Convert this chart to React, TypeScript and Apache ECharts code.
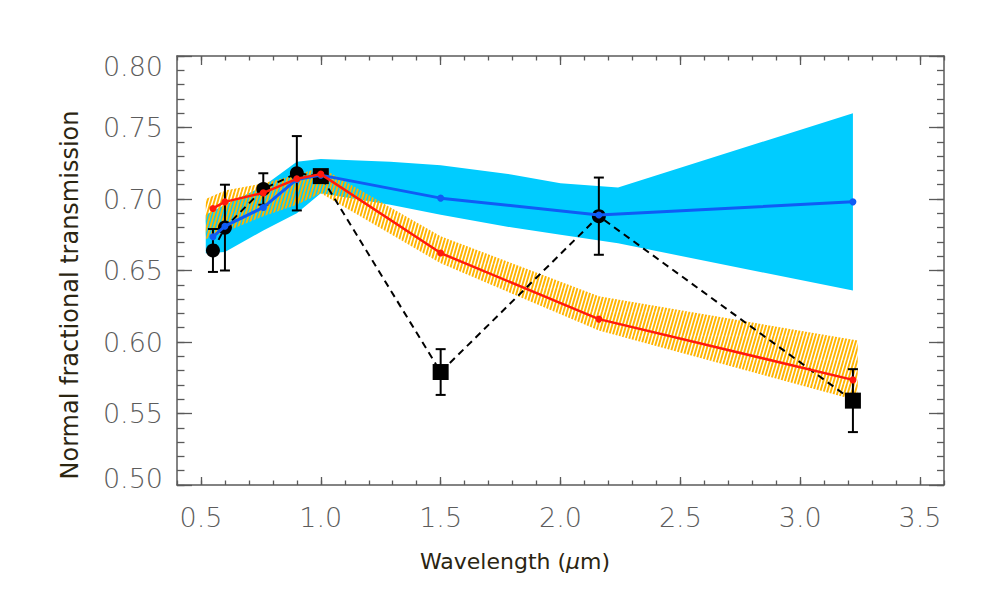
import React, { useEffect, useRef } from 'react';
import * as echarts from 'echarts';

// Observations (black markers with error bars, dashed line)
const obsX = [0.55, 0.60, 0.76, 0.90, 1.00, 1.50, 2.16, 3.22];
const obsY = [0.664, 0.680, 0.707, 0.718, 0.716, 0.579, 0.688, 0.559];
const obsErr = [0.015, 0.030, 0.011, 0.026, 0, 0.016, 0.027, 0.022];
const obsShape = ['circle', 'circle', 'circle', 'circle', 'rect', 'rect', 'circle', 'rect'];

// Model curves
const modelX = [0.55, 0.60, 0.76, 0.90, 1.00, 1.50, 2.16, 3.22];
const redY = [0.6934, 0.698, 0.7043, 0.7141, 0.7174, 0.6622, 0.616, 0.5735];
const blueY = [0.6736, 0.681, 0.6941, 0.7137, 0.7167, 0.7006, 0.6888, 0.698];

// Cyan uncertainty band (blue model)
const cyanX = [0.52, 0.60, 0.76, 0.90, 1.00, 1.29, 1.50, 1.80, 2.00, 2.24, 3.22];
const cyanHi = [0.689, 0.696, 0.709, 0.726, 0.728, 0.726, 0.7236, 0.717, 0.711, 0.708, 0.760];
const cyanLo = [0.662, 0.663, 0.678, 0.690, 0.704, 0.696, 0.689, 0.680, 0.675, 0.669, 0.636];

// Orange hatched band (red model)
const orangeX = [0.52, 0.60, 0.76, 0.90, 1.00, 1.50, 2.16, 3.24];
const orangeHi = [0.700, 0.706, 0.711, 0.717, 0.722, 0.674, 0.632, 0.601];
const orangeLo = [0.672, 0.677, 0.688, 0.696, 0.704, 0.655, 0.608, 0.559];

// Axis ticks
const xMajorTicks = [0.5, 1.0, 1.5, 2.0, 2.5, 3.0, 3.5];

const AXIS_COLOR = '#5a5a5a';
const LABEL_COLOR = '#5c5c5c';
const TITLE_COLOR = '#2b2511';
const LABEL_FONT = "'DejaVu Sans', sans-serif";

function makeHatch(): string {
  const c = document.createElement('canvas');
  c.width = 14;
  c.height = 24;
  const ctx = c.getContext('2d')!;
  ctx.strokeStyle = '#FFB400';
  ctx.lineWidth = 1.9;
  for (let x = -14; x <= 28; x += 3.5) {
    ctx.beginPath();
    ctx.moveTo(x, 24);
    ctx.lineTo(x + 7, 0);
    ctx.stroke();
  }
  return c.toDataURL();
}

function bandSeries(xs: number[], hi: number[], lo: number[], fill: any) {
  return {
    type: 'custom',
    xAxisIndex: 0,
    yAxisIndex: 0,
    silent: true,
    data: xs.map((x, i) => [x, hi[i], lo[i]]),
    encode: { x: 0, y: [1, 2] },
    renderItem: (params: any, api: any) => {
      if (params.dataIndex !== 0) return null;
      const pts: number[][] = [];
      for (let i = 0; i < xs.length; i++) pts.push(api.coord([xs[i], hi[i]]));
      for (let i = xs.length - 1; i >= 0; i--) pts.push(api.coord([xs[i], lo[i]]));
      return { type: 'polygon', shape: { points: pts }, style: { fill, stroke: null } };
    },
  };
}

export default function App() {
  const ref = useRef<HTMLDivElement>(null);
  useEffect(() => {
    if (!ref.current) return;
    const chart = echarts.init(ref.current, undefined, { renderer: 'svg' });
    const hatch = makeHatch();

    const axisCommonX = { type: 'value', min: 0.4, max: 3.6, gridIndex: 0, splitLine: { show: false } };
    const axisCommonY = { type: 'value', min: 0.5, max: 0.8, gridIndex: 0, splitLine: { show: false } };
    const tickStyle = { color: AXIS_COLOR, width: 1.3 };
    const labelFont = { color: LABEL_COLOR, fontSize: 27, fontWeight: 200, fontFamily: LABEL_FONT };

    const option: any = {
      animation: false,
      backgroundColor: '#ffffff',
      grid: { left: 177, top: 56, width: 767, height: 429 },
      xAxis: [
        {
          ...axisCommonX,
          position: 'bottom',
          axisLine: { show: true, onZero: false, lineStyle: { color: AXIS_COLOR, width: 1.5 } },
          axisTick: { show: true, inside: true, length: 8, customValues: xMajorTicks, lineStyle: tickStyle },
          axisLabel: {
            show: true,
            customValues: xMajorTicks,
            margin: 19,
            ...labelFont,
            formatter: (v: number) => v.toFixed(1),
          },
        },
        {
          ...axisCommonX,
          position: 'bottom',
          interval: 0.1,
          axisLine: { show: false },
          axisTick: { show: true, inside: true, length: 4.5, lineStyle: tickStyle },
          axisLabel: { show: false },
        },
        {
          ...axisCommonX,
          position: 'top',
          axisLine: { show: true, onZero: false, lineStyle: { color: AXIS_COLOR, width: 1.5 } },
          axisTick: { show: true, inside: true, length: 9, customValues: xMajorTicks, lineStyle: tickStyle },
          axisLabel: { show: false },
        },
        {
          ...axisCommonX,
          position: 'top',
          interval: 0.1,
          axisLine: { show: false },
          axisTick: { show: true, inside: true, length: 4.5, lineStyle: tickStyle },
          axisLabel: { show: false },
        },
      ],
      yAxis: [
        {
          ...axisCommonY,
          position: 'left',
          interval: 0.05,
          axisLine: { show: true, onZero: false, lineStyle: { color: AXIS_COLOR, width: 1.5 } },
          axisTick: { show: true, inside: true, length: 15, lineStyle: tickStyle },
          axisLabel: {
            show: true,
            margin: 14,
            ...labelFont,
            formatter: (v: number) => {
              const s = v.toFixed(2);
              if (Math.abs(v - 0.8) < 1e-6) return '{t|' + s + '}';
              if (Math.abs(v - 0.5) < 1e-6) return '{b|' + s + '}';
              return s;
            },
            rich: {
              t: { padding: [20, 0, 0, 0], ...labelFont },
              b: { padding: [0, 0, 14, 0], ...labelFont },
            },
          },
        },
        {
          ...axisCommonY,
          position: 'left',
          interval: 0.01,
          axisLine: { show: false },
          axisTick: { show: true, inside: true, length: 7.5, lineStyle: tickStyle },
          axisLabel: { show: false },
        },
        {
          ...axisCommonY,
          position: 'right',
          interval: 0.05,
          axisLine: { show: true, onZero: false, lineStyle: { color: AXIS_COLOR, width: 1.5 } },
          axisTick: { show: true, inside: true, length: 15, lineStyle: tickStyle },
          axisLabel: { show: false },
        },
        {
          ...axisCommonY,
          position: 'right',
          interval: 0.01,
          axisLine: { show: false },
          axisTick: { show: true, inside: true, length: 7, lineStyle: tickStyle },
          axisLabel: { show: false },
        },
      ],
      series: [
        bandSeries(cyanX, cyanHi, cyanLo, '#00CCFF'),
        bandSeries(orangeX, orangeHi, orangeLo, {
          image: hatch,
          repeat: 'repeat',
          imageWidth: 14,
          imageHeight: 24,
        }),
        {
          type: 'line',
          xAxisIndex: 0,
          yAxisIndex: 0,
          data: obsX.map((x, i) => ({
            value: [x, obsY[i]],
            symbol: obsShape[i],
            symbolSize: obsShape[i] === 'rect' ? 16 : 14,
          })),
          lineStyle: { color: '#000', width: 2, type: [7, 5] },
          itemStyle: { color: '#000' },
          showAllSymbol: true,
          z: 3,
        },
        {
          type: 'custom',
          xAxisIndex: 0,
          yAxisIndex: 0,
          data: obsX.map((x, i) => [x, obsY[i], obsErr[i]]),
          encode: { x: 0, y: 1 },
          z: 3,
          renderItem: (params: any, api: any) => {
            const x = api.value(0);
            const y = api.value(1);
            const e = api.value(2);
            if (!e) return null;
            const top = api.coord([x, y + e]);
            const bot = api.coord([x, y - e]);
            const w = 5;
            const st = { stroke: '#000', lineWidth: 2 };
            return {
              type: 'group',
              children: [
                { type: 'line', shape: { x1: top[0], y1: top[1], x2: bot[0], y2: bot[1] }, style: st },
                { type: 'line', shape: { x1: top[0] - w, y1: top[1], x2: top[0] + w, y2: top[1] }, style: st },
                { type: 'line', shape: { x1: bot[0] - w, y1: bot[1], x2: bot[0] + w, y2: bot[1] }, style: st },
              ],
            };
          },
        },
        {
          type: 'line',
          xAxisIndex: 0,
          yAxisIndex: 0,
          data: modelX.map((x, i) => [x, blueY[i]]),
          symbol: 'circle',
          symbolSize: 7,
          showAllSymbol: true,
          lineStyle: { color: '#0F5CF5', width: 3 },
          itemStyle: { color: '#0F5CF5' },
          z: 4,
        },
        {
          type: 'line',
          xAxisIndex: 0,
          yAxisIndex: 0,
          data: modelX.map((x, i) => [x, redY[i]]),
          symbol: 'circle',
          symbolSize: 7,
          showAllSymbol: true,
          lineStyle: { color: '#FF1A0D', width: 2.5 },
          itemStyle: { color: '#FF1A0D' },
          z: 5,
        },
      ],
      graphic: [
        {
          type: 'text',
          x: 70,
          y: 295,
          rotation: Math.PI / 2,
          style: {
            text: 'Normal fractional transmission',
            fontSize: 24,
            fontFamily: LABEL_FONT,
            fill: TITLE_COLOR,
            align: 'center',
            verticalAlign: 'middle',
          },
        },
        {
          type: 'text',
          x: 515,
          y: 561,
          style: {
            text: 'Wavelength ({i|μ}m)',
            fontSize: 22,
            fontFamily: LABEL_FONT,
            fill: TITLE_COLOR,
            align: 'center',
            verticalAlign: 'middle',
            rich: {
              i: { fontStyle: 'italic', fontSize: 22, fontFamily: LABEL_FONT, fill: TITLE_COLOR },
            },
          },
        },
      ],
    };
    chart.setOption(option);
    return () => chart.dispose();
  }, []);
  return (
    <div
      ref={ref}
      style={{ position: 'fixed', left: 0, top: 0, width: 997, height: 598, background: '#fff' }}
    />
  );
}
